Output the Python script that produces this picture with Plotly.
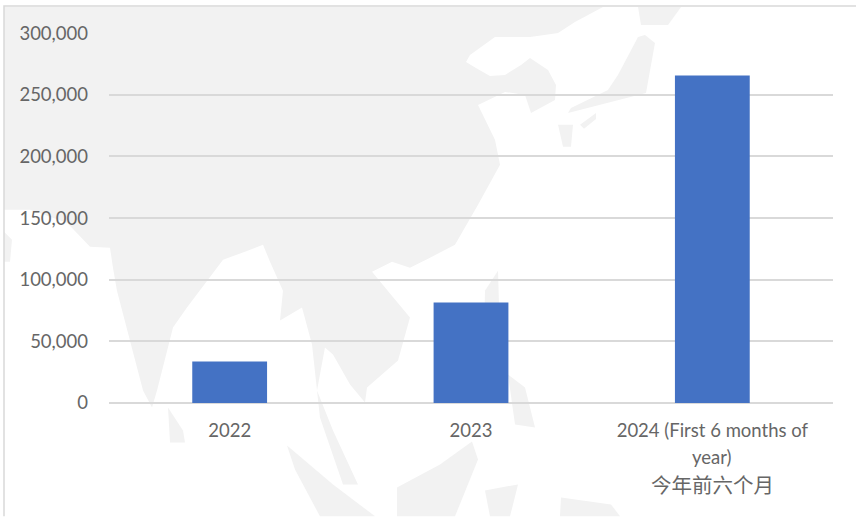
import plotly.graph_objects as go

# Data
categories = ["2022", "2023", "2024"]
tick_labels = ["2022", "2023", "2024 (First 6 months of"]
extra_label_lines = ["year)", "今年前六个月"]
values = [33600, 81400, 265600]
y_ticks = [0, 50000, 100000, 150000, 200000, 250000, 300000]

W, H = 856, 517
L, R, T, B = 109, 833, 33, 403.5
FONT = "Lato, 'Noto Sans CJK SC', sans-serif"
FONT_SIZE = 18.5
LINE_SIZES = [18.5, 20.5]
TEXT = "#666666"
GRID = "#d9d9d9"
MAP = "#f2f2f2"

# Faint decorative map behind the chart, as outlines in page pixels
map_outlines = [
    [(4,7),(603,7),(575,22),(558,33),(530,37),(495,37),(470,55),(466,62),(476,68),(490,76),(505,75),(521,65),(530,58),(548,70),(556,85),(555,100),(531,113),(525,95),(505,92),(478,105),(495,140),(500,165),(478,205),(455,245),(430,258),(410,268),(392,262),(372,272),(395,300),(410,318),(398,361),(367,388),(365,403),(350,385),(333,355),(325,348),(317,391),(333,431),(358,485),(343,485),(320,418),(312,345),(302,308),(280,321),(283,291),(270,262),(263,245),(245,252),(223,260),(187,308),(173,328),(157,391),(152,408),(143,391),(117,291),(113,268),(110,248),(90,247),(67,223),(30,210),(4,210)],
    [(168,408),(183,431),(185,443),(170,443)],
    [(4,232),(12,240),(10,262),(4,262)],
    [(287,446),(333,485),(375,517),(320,517),(295,470)],
    [(397,488),(440,465),(472,442),(478,460),(455,517),(397,517)],
    [(485,491),(518,485),(510,517),(490,517)],
    [(561,498),(611,505),(620,517),(560,517)],
    [(645,35),(655,43),(646,93),(568,113),(571,108),(608,90),(618,75),(638,37)],
    [(558,125),(573,125),(571,147),(563,147)],
    [(580,125),(596,113),(596,119),(584,129)],
    [(638,7),(681,7),(668,25),(641,25)],
    [(485,291),(498,271),(500,340),(484,340)],
    [(508,375),(525,388),(535,428),(515,425)],
]

def px(x):
    return (x - L) / (R - L)

def py(y):
    return (B - y) / (B - T)

shapes = []
for outline in map_outlines:
    path = "M " + " L ".join(f"{px(x):.4f},{py(y):.4f}" for x, y in outline) + " Z"
    shapes.append(dict(type="path", path=path, xref="paper", yref="paper", layer="below",
                       fillcolor=MAP, line=dict(width=0)))
shapes.append(dict(type="path", path=f"M {px(4)},{py(517)} L {px(4)},{py(6)} L {px(856)},{py(6)}",
                   xref="paper", yref="paper", layer="below", line=dict(color=GRID, width=1.5)))

fig = go.Figure(go.Bar(x=categories, y=values, marker=dict(color="#4472c4", line=dict(width=0)), width=0.31))

annotations = [dict(x=(categories.index("2024") + 0.5) / len(categories), xref="paper", xanchor="center",
                    y=py(458 + 28 * i), yref="paper", text=t, showarrow=False, yanchor="middle",
                    font=dict(family=FONT, size=LINE_SIZES[i], color=TEXT))
               for i, t in enumerate(extra_label_lines)]

fig.update_layout(
    width=W, height=H, margin=dict(l=L, r=W - R, t=T, b=H - B, pad=0),
    paper_bgcolor="white", plot_bgcolor="rgba(0,0,0,0)", showlegend=False,
    shapes=shapes, annotations=annotations,
    font=dict(family=FONT, size=FONT_SIZE, color=TEXT),
    xaxis=dict(type="category", tickmode="array", tickvals=categories, ticktext=tick_labels, tickangle=0,
               ticks="", showgrid=False, showline=False, ticklabelstandoff=14, range=[-0.5, 2.5]),
    yaxis=dict(range=[0, 300050], tickvals=y_ticks, tickformat=",", gridcolor=GRID, gridwidth=1.5,
               zerolinecolor=GRID, zerolinewidth=1.5, ticks="", ticklabelstandoff=20),
)

fig.write_html("out.html", config=dict(displayModeBar=False), post_script="document.body.style.margin='0';")
